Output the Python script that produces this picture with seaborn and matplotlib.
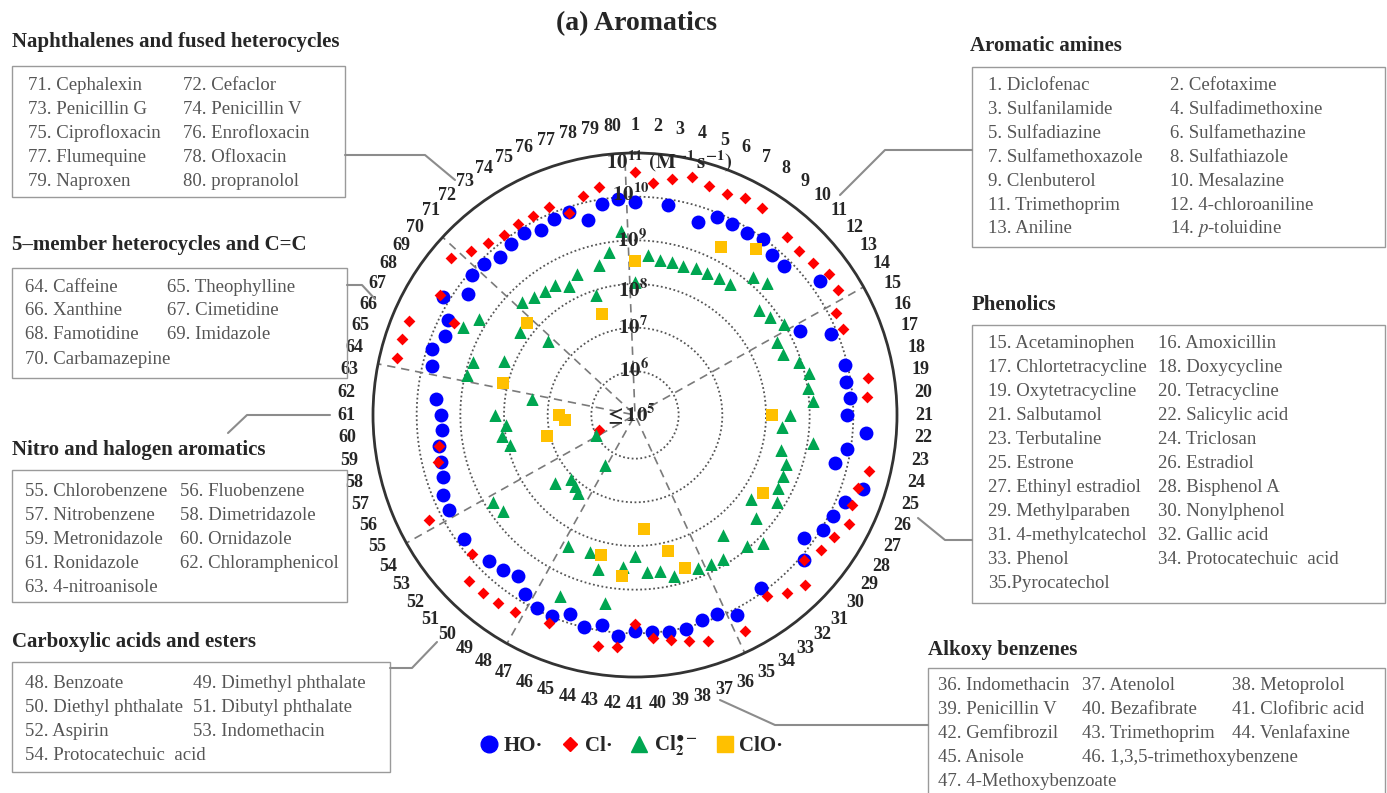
import numpy as np
import pandas as pd
import matplotlib
matplotlib.use("Agg")
import matplotlib.pyplot as plt
import seaborn as sns
from matplotlib.lines import Line2D
from matplotlib.patches import Rectangle

# ---------------- data (log10 k, M^-1 s^-1) ----------------
compounds = list(range(1, 81))
nan = np.nan
ho = [9.87, nan, 9.87, nan, 9.65, 9.90, 9.90, 9.90, 9.99, 9.83,
      9.82, nan, 10.24, nan, 9.24, 9.87, nan, 9.95, 9.90, 9.95,
      9.85, 10.31, 9.92, 9.72, 10.50, 10.20, 10.10, 10.04, 9.78, 10.10,
      nan, nan, 9.90, nan, 10.14, 9.93, 9.94, 10.04, 10.03, 9.98,
      9.95, 10.08, 9.87, 10.00, 9.78, 9.97, 9.95, 9.80, 9.57, 9.66,
      9.74, nan, 9.85, nan, 9.77, 9.77, 9.63, 9.58, 9.55, 9.44,
      9.44, 9.56, nan, 9.79, 9.90, 9.71, 9.81, 10.15, 9.72, 9.92,
      9.89, 9.75, 9.83, 9.88, 9.75, 9.85, 9.90, 9.59, 9.89, 9.96]
cl = [10.56, 10.33, 10.47, 10.60, 10.51, 10.49, 10.57, 10.57, nan, 10.37,
      10.32, 10.36, 10.48, 10.46, 10.16, 10.15, nan, nan, 10.41, 10.34,
      nan, nan, nan, 10.50, 10.38, 10.39, 10.49, 10.35, 10.27, 10.10,
      10.49, 10.37, 10.13, nan, 10.55, nan, 10.44, 10.32, 10.22, 10.12,
      9.78, 10.33, 10.35, nan, nan, 10.15, nan, 10.28, 10.33, 10.36,
      10.36, 9.90, nan, nan, 10.30, 5.88, nan, 9.64, 9.55, nan,
      nan, nan, nan, 10.60, 10.62, 10.60, 9.64, 10.25, nan, 10.55,
      10.32, 10.17, 10.09, 10.12, 10.12, 10.16, 9.86, 10.15, 10.28, nan]
cl2 = [8.04, 8.67, 8.59, 8.61, 8.58, 8.65, 8.64, 8.68, 8.71, 9.17,
       9.26, 8.72, 8.83, 9.00, 8.66, 8.66, 8.96, 9.10, 9.02, 9.10,
       8.55, 8.38, 9.13, 8.45, 8.63, 8.68, 8.67, 8.81, 8.29, 8.63,
       9.14, 8.96, 8.41, 8.87, 8.84, 8.80, nan, 8.79, 8.61, 8.60,
       8.23, 8.49, 9.37, 8.62, 8.31, 9.49, 8.37, 6.33, 7.21, 7.13,
       7.08, 7.40, 8.74, 8.81, 6.00, nan, nan, 7.94, 8.09, 7.97,
       8.20, nan, 7.38, 8.96, 8.91, 8.25, 9.43, 9.20, 8.25, 7.61,
       8.66, 8.55, 8.50, 8.50, 8.32, 8.50, 7.90, 8.53, 8.78, 9.22]
clo_ids = [1, 7, 9, 21, 28, 37, 38, 40, 42, 44, 58, 60, 61, 64, 70, 77]
clo_vals = [8.52, 9.33, 9.70, 8.14, 8.43, 8.68, 8.20, 7.62, 8.70, 8.29,
            7.07, 6.60, 6.74, 8.11, 8.26, 7.42]

ring_values = [6, 7, 8, 9, 10]
ring_labels = [r"$\mathbf{10^{6}}$", r"$\mathbf{10^{7}}$", r"$\mathbf{10^{8}}$",
               r"$\mathbf{10^{9}}$", r"$\mathbf{10^{10}}$"]
group_starts = [1, 15, 36, 48, 55, 64, 71]

groups = {
    "Naphthalenes and fused heterocycles": ["71. Cephalexin", "72. Cefaclor", "73. Penicillin G",
        "74. Penicillin V", "75. Ciprofloxacin", "76. Enrofloxacin", "77. Flumequine",
        "78. Ofloxacin", "79. Naproxen", "80. propranolol"],
    "5\u2013member heterocycles and C=C": ["64. Caffeine", "65. Theophylline", "66. Xanthine",
        "67. Cimetidine", "68. Famotidine", "69. Imidazole", "70. Carbamazepine"],
    "Nitro and halogen aromatics": ["55. Chlorobenzene", "56. Fluobenzene", "57. Nitrobenzene",
        "58. Dimetridazole", "59. Metronidazole", "60. Ornidazole", "61. Ronidazole",
        "62. Chloramphenicol", "63. 4-nitroanisole"],
    "Carboxylic acids and esters": ["48. Benzoate", "49. Dimethyl phthalate",
        "50. Diethyl phthalate", "51. Dibutyl phthalate", "52. Aspirin", "53. Indomethacin",
        "54. Protocatechuic  acid"],
    "Aromatic amines": ["1. Diclofenac", "2. Cefotaxime", "3. Sulfanilamide",
        "4. Sulfadimethoxine", "5. Sulfadiazine", "6. Sulfamethazine", "7. Sulfamethoxazole",
        "8. Sulfathiazole", "9. Clenbuterol", "10. Mesalazine", "11. Trimethoprim",
        "12. 4-chloroaniline", "13. Aniline", "14. $\\it{p}$-toluidine"],
    "Phenolics": ["15. Acetaminophen", "16. Amoxicillin", "17. Chlortetracycline",
        "18. Doxycycline", "19. Oxytetracycline", "20. Tetracycline", "21. Salbutamol",
        "22. Salicylic acid", "23. Terbutaline", "24. Triclosan", "25. Estrone",
        "26. Estradiol", "27. Ethinyl estradiol", "28. Bisphenol A", "29. Methylparaben",
        "30. Nonylphenol", "31. 4-methylcatechol", "32. Gallic acid", "33. Phenol",
        "34. Protocatechuic  acid", "35.Pyrocatechol"],
    "Alkoxy benzenes": ["36. Indomethacin", "37. Atenolol", "38. Metoprolol",
        "39. Penicillin V", "40. Bezafibrate", "41. Clofibric acid", "42. Gemfibrozil",
        "43. Trimethoprim", "44. Venlafaxine", "45. Anisole", "46. 1,3,5-trimethoxybenzene",
        "47. 4-Methoxybenzoate"],
}

# ---------------- style ----------------
sns.set_style("white")
plt.rcParams["font.family"] = ["Liberation Serif", "DejaVu Serif"]
plt.rcParams["mathtext.fontset"] = "stix"

W, H = 1387, 793
fig = plt.figure(figsize=(W / 100, H / 100), dpi=100)
cx, cy, R = 635, 415, 262


def fx(x):
    return x / W


def fy(y):
    return 1 - y / H


ax = fig.add_axes([fx(cx - R), (H - cy - R) / H, 2 * R / W, 2 * R / H], projection="polar")
ax.set_theta_zero_location("N")
ax.set_theta_direction(-1)

df = pd.DataFrame({"compound": compounds, "HO": ho, "Cl": cl, "Cl2": cl2})
df["theta"] = np.deg2rad((df["compound"] - 1) * 4.5)
clo_df = pd.DataFrame({"compound": clo_ids, "ClO": clo_vals})
clo_df["theta"] = np.deg2rad((clo_df["compound"] - 1) * 4.5)

# rings
th = np.linspace(0, 2 * np.pi, 500)
for r in ring_values:
    ax.plot(th, np.full_like(th, r), ls=(0, (1, 1.4)), color="#555555", lw=1.3, zorder=1)
# radial dashed separators
for b in group_starts:
    a = np.deg2rad((b - 1.5) * 4.5)
    ax.plot([a, a], [5.08, 11], ls=(0, (5, 3.5)), color="#7a7a7a", lw=1.2, zorder=1)

styles = [
    ("HO", df, "o", "#0000FF", 100, 3),
    ("Cl", df, "D", "#FF0000", 36, 4),
    ("Cl2", df, "^", "#00A651", 80, 5),
    ("ClO", clo_df, "s", "#FFC000", 82, 6),
]
for col, data, mk, colr, size, z in styles:
    sub = data[["theta", col]].dropna()
    sns.scatterplot(data=sub, x="theta", y=col, ax=ax, marker=mk, color=colr, s=size,
                    linewidth=0, zorder=z, legend=False)

ax.set_xlabel("")
ax.set_ylabel("")
ax.set_ylim(5, 11)
ax.grid(False)
ax.set_xticks([])
ax.set_yticks([])
ax.spines["polar"].set_color("#333333")
ax.spines["polar"].set_linewidth(2)

# ring labels
ring_r = [6.0, 7.0, 7.85, 9.0, 10.05]
for rv, lab in zip(ring_r, ring_labels):
    ax.text(np.deg2rad(-1.0), rv, lab, ha="center", va="center", fontsize=15, zorder=8)
fig.text(fx(606), fy(161), r"$\mathbf{10^{11}}$ $\mathbf{(M^{-1}\,s^{-1})}$", ha="left",
         va="center", fontsize=15)
fig.text(fx(630), fy(414), r"$\mathbf{\leq 10^{5}}$", ha="center", va="center", fontsize=15,
         zorder=9)

# compound numbers around the circle
for c in compounds:
    ax.text(np.deg2rad((c - 1) * 4.5), 11.62, str(c), ha="center", va="center",
            fontsize=13, fontweight="bold")

# title
fig.text(fx(636), fy(24), "(a) Aromatics", ha="center", va="center", fontsize=20,
         fontweight="bold")

# group boxes
layout = {
    "Naphthalenes and fused heterocycles": dict(title=(12, 42), box=(12, 66, 345, 197),
                                                cols=[28, 183], y0=85, n=2),
    "5\u2013member heterocycles and C=C": dict(title=(12, 245), box=(12, 268, 347, 378),
                                              cols=[25, 167], y0=287, n=2),
    "Nitro and halogen aromatics": dict(title=(12, 450), box=(12, 470, 347, 602),
                                        cols=[25, 180], y0=491, n=2),
    "Carboxylic acids and esters": dict(title=(12, 642), box=(12, 662, 390, 772),
                                        cols=[25, 193], y0=683, n=2),
    "Aromatic amines": dict(title=(970, 46), box=(972, 67, 1385, 247),
                            cols=[988, 1170], y0=85, n=2),
    "Phenolics": dict(title=(972, 305), box=(972, 325, 1385, 603),
                      cols=[988, 1158], y0=344, n=2),
    "Alkoxy benzenes": dict(title=(928, 650), box=(928, 668, 1385, 795),
                            cols=[938, 1082, 1232], y0=686, n=3),
}
# explicit (row, col) placement for the last rows of the alkoxy box
alkoxy_cells = [(0, 0), (0, 1), (0, 2), (1, 0), (1, 1), (1, 2), (2, 0), (2, 1), (2, 2),
                (3, 0), (3, 1), (4, 0)]
for name, items in groups.items():
    L = layout[name]
    fig.text(fx(L["title"][0]), fy(L["title"][1]), name, ha="left", va="center",
             fontsize=15, fontweight="bold")
    x0, y0, x1, y1 = L["box"]
    fig.patches.append(Rectangle((fx(x0), fy(y1)), (x1 - x0) / W, (y1 - y0) / H,
                                 transform=fig.transFigure, fill=False,
                                 edgecolor="#9a9a9a", lw=1.0))
    for k, it in enumerate(items):
        if name == "Alkoxy benzenes":
            row, col = alkoxy_cells[k]
        else:
            row, col = divmod(k, L["n"])
        fig.text(fx(L["cols"][col]), fy(L["y0"] + 24 * row), it, ha="left", va="center",
                 fontsize=13.5, color="#555555")

# leader lines
leaders = [
    [(345, 155), (425, 155), (455, 180)],
    [(972, 150), (885, 150), (840, 195)],
    [(347, 285), (362, 285), (375, 299)],
    [(228, 433), (247, 415), (330, 415)],
    [(972, 540), (945, 540), (918, 518)],
    [(390, 668), (412, 668), (437, 642)],
    [(928, 725), (775, 725), (720, 700)],
]
for pts in leaders:
    xs = [fx(p[0]) for p in pts]
    ys = [fy(p[1]) for p in pts]
    fig.add_artist(Line2D(xs, ys, transform=fig.transFigure, color="#8c8c8c", lw=1.5))

# legend
handles = [
    Line2D([], [], marker="o", ls="", color="#0000FF", markersize=12),
    Line2D([], [], marker="D", ls="", color="#FF0000", markersize=7),
    Line2D([], [], marker="^", ls="", color="#00A651", markersize=11),
    Line2D([], [], marker="s", ls="", color="#FFC000", markersize=11),
]
labels = ["HO\u00b7", "Cl\u00b7", r"Cl$_{\mathbf{2}}^{\mathbf{\bullet -}}$", "ClO\u00b7"]
fig.legend(handles, labels, loc="center", bbox_to_anchor=(fx(632), fy(746)), ncol=4,
           frameon=False, prop={"weight": "bold", "size": 15}, handlelength=0.8,
           handletextpad=0.3, columnspacing=0.9, borderpad=0)

fig.savefig("out.png", dpi=100)
